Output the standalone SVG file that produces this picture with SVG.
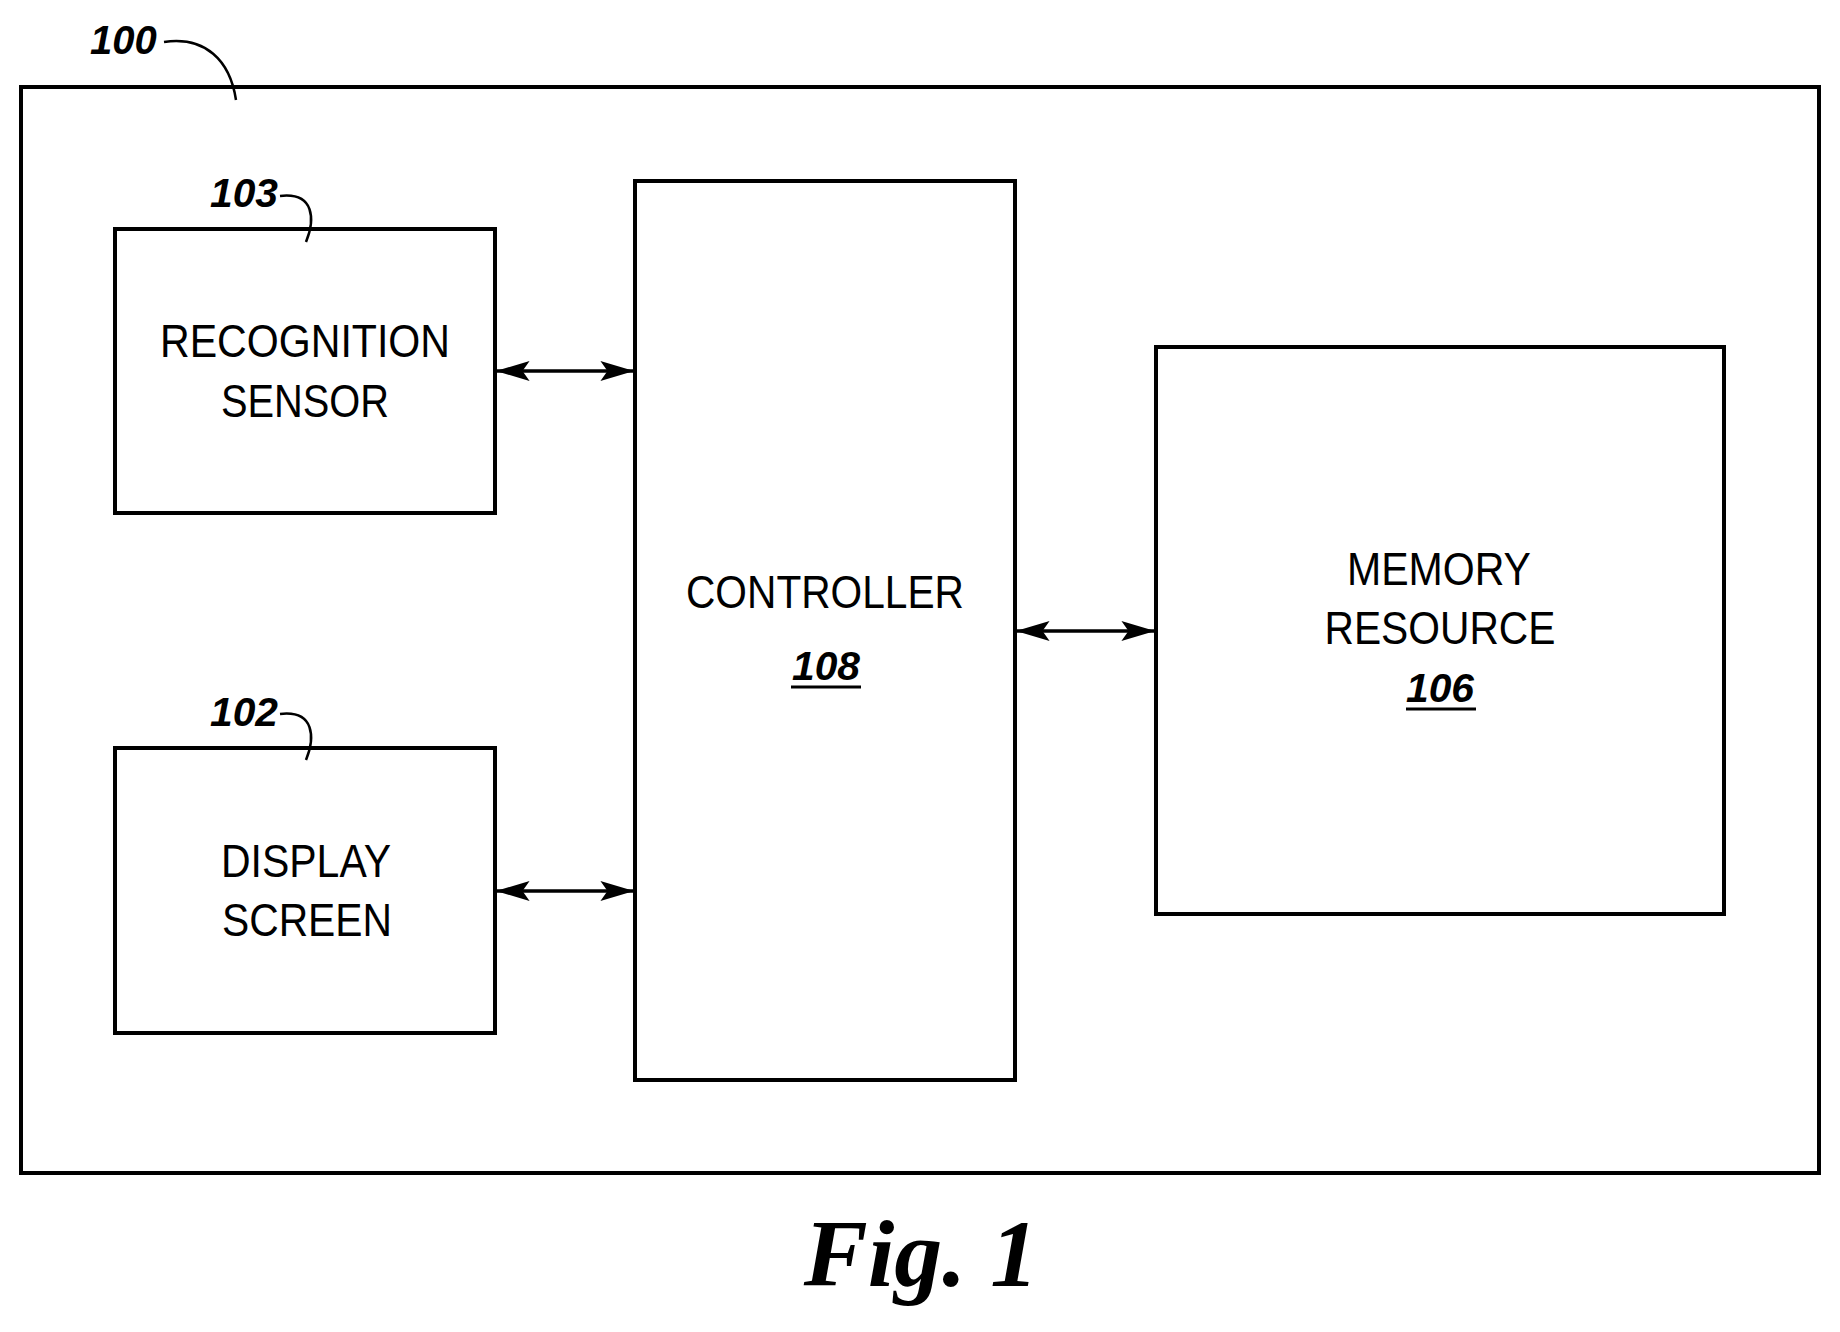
<svg xmlns="http://www.w3.org/2000/svg" width="1840" height="1332" viewBox="0 0 1840 1332">
<style>
.b{fill:none;stroke:#000;stroke-width:4}
.t{font-family:"Liberation Sans",Arial,sans-serif;font-size:46px;text-anchor:middle}
.r{font-family:"Liberation Sans",Arial,sans-serif;font-size:40px;font-weight:bold;font-style:italic}
.c{fill:none;stroke:#000;stroke-width:2.5}
</style>
<defs>
<marker id="m" viewBox="0 0 24 14" markerWidth="34" markerHeight="20" refX="23" refY="7" orient="auto-start-reverse" markerUnits="userSpaceOnUse"><path d="M0,0 L24,7 L0,14 L5,7Z" fill="#000"/></marker></defs>
<g id="n100"><rect class="b" x="21" y="87" width="1798" height="1086"/>
<text class="r" x="90" y="54">100</text><path class="c" d="M164,42 C205,36 230,60 236,100"/></g>
<g id="n103"><rect class="b" x="115" y="229" width="380" height="284"/>
<text class="t" x="305" y="357" textLength="290" lengthAdjust="spacingAndGlyphs">RECOGNITION</text>
<text class="t" x="305" y="417" textLength="168" lengthAdjust="spacingAndGlyphs">SENSOR</text>
<text class="r" x="210" y="207" textLength="68" lengthAdjust="spacingAndGlyphs">103</text><path class="c" d="M280,196 C315,192 315,220 306,242"/></g>
<g id="n102"><rect class="b" x="115" y="748" width="380" height="285"/>
<text class="t" x="306" y="877" textLength="170" lengthAdjust="spacingAndGlyphs">DISPLAY</text>
<text class="t" x="307" y="936" textLength="170" lengthAdjust="spacingAndGlyphs">SCREEN</text>
<text class="r" x="210" y="726" textLength="68" lengthAdjust="spacingAndGlyphs">102</text><path class="c" d="M280,714 C315,710 315,738 306,760"/></g>
<g id="n108"><rect class="b" x="635" y="181" width="380" height="899"/>
<text class="t" x="825" y="608" textLength="278" lengthAdjust="spacingAndGlyphs">CONTROLLER</text>
<text class="r" x="826" y="680" text-anchor="middle" textLength="68" lengthAdjust="spacingAndGlyphs">108</text>
<line x1="791" y1="687" x2="861" y2="687" stroke="#000" stroke-width="3"/></g>
<g id="n106"><rect class="b" x="1156" y="347" width="568" height="567"/>
<text class="t" x="1439" y="585" textLength="184" lengthAdjust="spacingAndGlyphs">MEMORY</text>
<text class="t" x="1440" y="644" textLength="231" lengthAdjust="spacingAndGlyphs">RESOURCE</text>
<text class="r" x="1440" y="702" text-anchor="middle" textLength="68" lengthAdjust="spacingAndGlyphs">106</text>
<line x1="1406" y1="709" x2="1476" y2="709" stroke="#000" stroke-width="3"/></g>
<g id="connectors" stroke="#000" stroke-width="3.5">
<line x1="497" y1="371" x2="633" y2="371" marker-start="url(#m)" marker-end="url(#m)"/>
<line x1="497" y1="891" x2="633" y2="891" marker-start="url(#m)" marker-end="url(#m)"/>
<line x1="1017" y1="631" x2="1154" y2="631" marker-start="url(#m)" marker-end="url(#m)"/>
</g>
<text x="921" y="1286" font-family="'Liberation Serif','Times New Roman',serif" font-size="96" font-weight="bold" font-style="italic" text-anchor="middle">Fig. 1</text>
</svg>
